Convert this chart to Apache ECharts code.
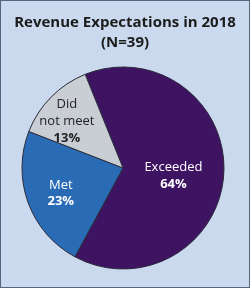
<!DOCTYPE html>
<html><head><meta charset="utf-8">
<script src="https://cdn.jsdelivr.net/npm/echarts@6/dist/echarts.min.js"></script>
<style>
html,body{margin:0;padding:0;background:#cbd9ee;}
#c{width:250px;height:288px;box-sizing:border-box;border:1px solid #56657c;}
</style></head><body>
<div id="c"></div>
<script>
const categories = ['Exceeded', 'Met', 'Did not meet'];
const values = [64, 23, 13];
const labelNames = ['Exceeded', 'Met', 'Did\nnot meet'];
const colors = ['#3d1362', '#2a6bb6', '#c9ced4'];
const labelColors = ['#ffffff', '#ffffff', '#222222'];
const labelOffsets = [[-3, 5], [-12, 7], [-18, -9]];

const chart = echarts.init(document.getElementById('c'), null, {renderer: 'canvas'});
chart.setOption({
  backgroundColor: '#cbd9ee',
  animation: false,
  title: {
    text: 'Revenue Expectations in 2018\n(N=39)',
    left: 'center', top: 7,
    textStyle: {fontFamily: 'Open Sans', fontWeight: 'bold', fontSize: 15, color: '#1b1b1b', lineHeight: 20}
  },
  series: [{
    type: 'pie',
    center: [122, 167],
    radius: 101,
    startAngle: 112,
    clockwise: true,
    avoidLabelOverlap: false,
    itemStyle: {borderColor: '#2b2b3a', borderWidth: 1},
    labelLine: {show: false},
    emphasis: {disabled: true},
    data: categories.map((c, i) => ({
      name: c, value: values[i],
      itemStyle: {color: colors[i]},
      label: {
        show: true, position: 'inner', offset: labelOffsets[i],
        formatter: p => '{n|' + labelNames[i] + '}\n{p|' + values[i] + '%}',
        rich: {
          n: {fontFamily: 'Open Sans', fontSize: 13, color: labelColors[i], lineHeight: 16.5, align: 'center'},
          p: {fontFamily: 'Open Sans', fontSize: 13, fontWeight: 'bold', color: labelColors[i], lineHeight: 17, align: 'center'}
        }
      }
    }))
  }]
});
</script>
</body></html>
